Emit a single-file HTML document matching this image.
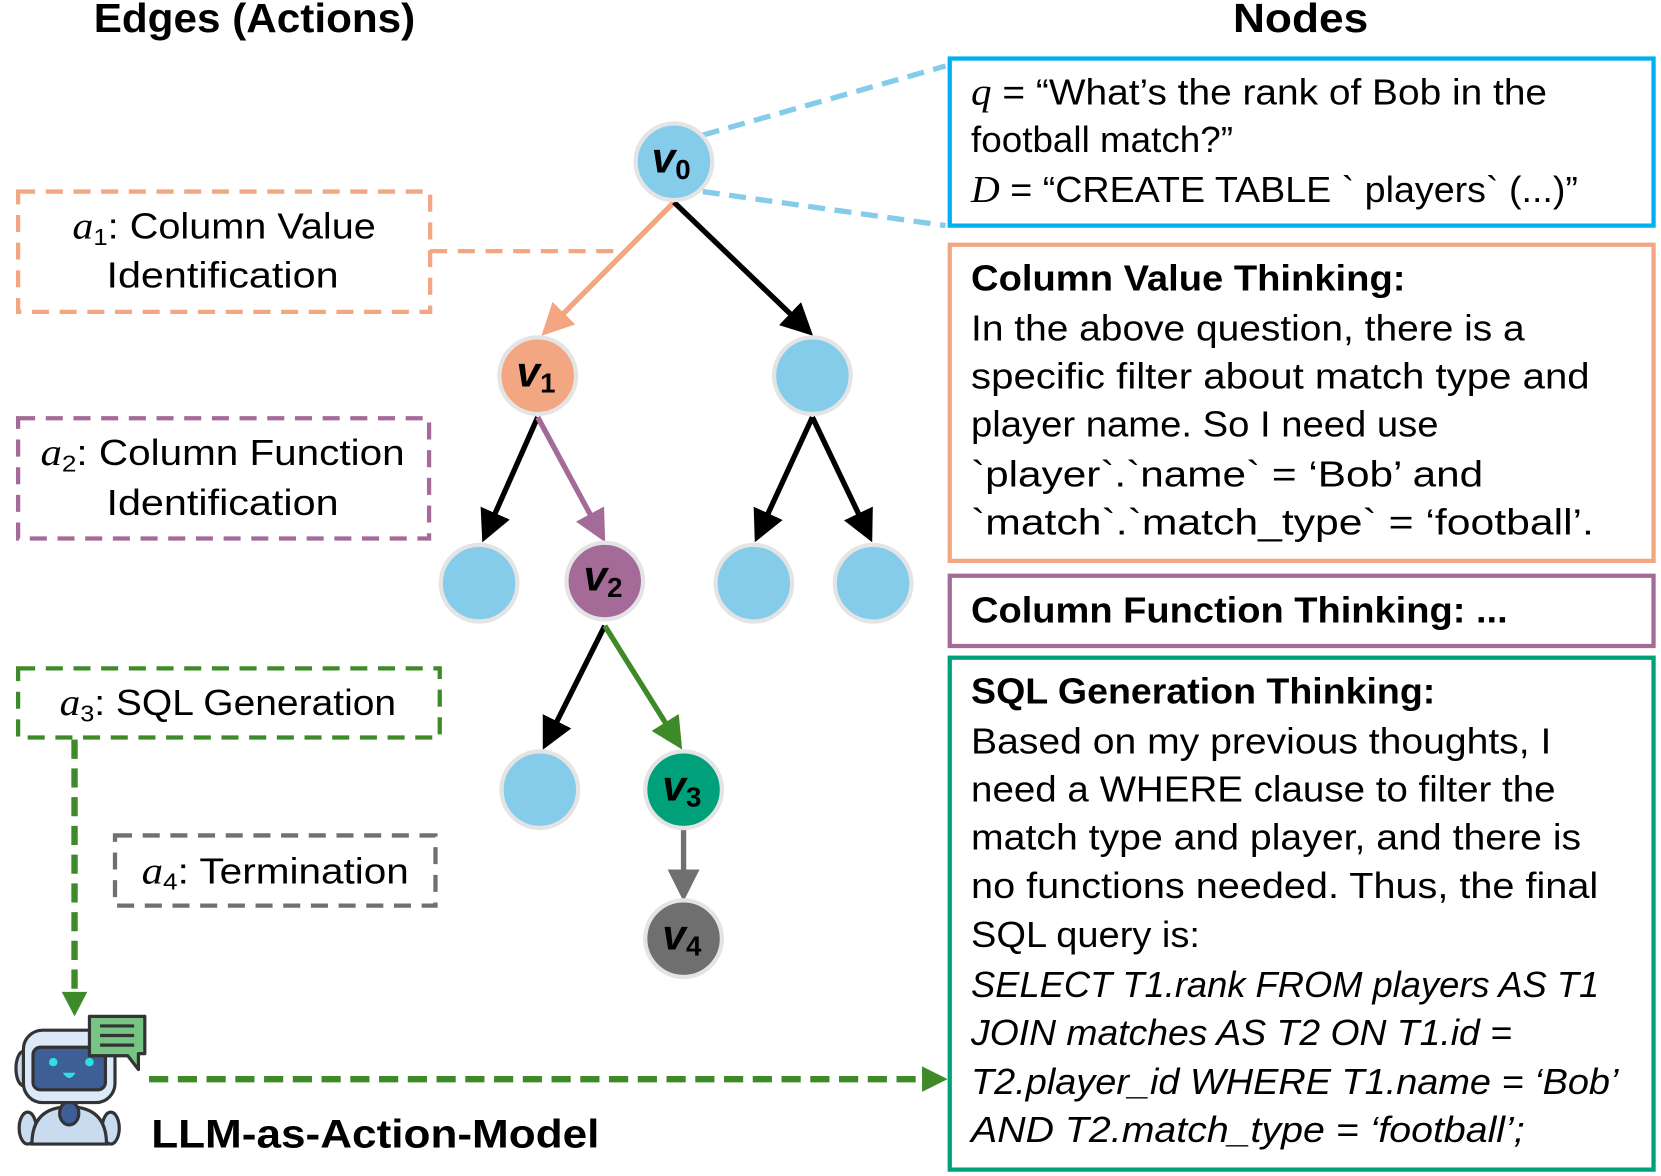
<!DOCTYPE html>
<html><head><meta charset="utf-8"><style>
html,body{margin:0;padding:0;background:#fff;}
svg{display:block;}
text{font-family:"Liberation Sans",sans-serif;fill:#000;}
.t{font-size:34px;}
.b{font-weight:bold;}
.m{font-family:"Liberation Serif",serif;font-style:italic;font-size:36px;}
</style></head><body>
<svg width="1661" height="1176" viewBox="0 0 1560 1105" preserveAspectRatio="none" xmlns="http://www.w3.org/2000/svg">
<defs>
<marker id="ak" markerWidth="6" markerHeight="6" refX="5" refY="3" orient="auto" markerUnits="strokeWidth"><path d="M0,0 L6,3 L0,6 z" fill="#000"/></marker>
<marker id="ao" markerWidth="6" markerHeight="6" refX="5" refY="3" orient="auto" markerUnits="strokeWidth"><path d="M0,0 L6,3 L0,6 z" fill="#f2a682"/></marker>
<marker id="ap" markerWidth="6" markerHeight="6" refX="5" refY="3" orient="auto" markerUnits="strokeWidth"><path d="M0,0 L6,3 L0,6 z" fill="#a46b98"/></marker>
<marker id="ag" markerWidth="6" markerHeight="6" refX="5" refY="3" orient="auto" markerUnits="strokeWidth"><path d="M0,0 L6,3 L0,6 z" fill="#3e8a28"/></marker>
<marker id="ay" markerWidth="6" markerHeight="6" refX="5" refY="3" orient="auto" markerUnits="strokeWidth"><path d="M0,0 L6,3 L0,6 z" fill="#707070"/></marker>
</defs>

<text x="88" y="30" class="b" font-size="38" textLength="302" lengthAdjust="spacingAndGlyphs">Edges (Actions)</text>
<text x="1158" y="30" class="b" font-size="38" textLength="127" lengthAdjust="spacingAndGlyphs">Nodes</text>

<line x1="660" y1="127" x2="888" y2="62" stroke="#85cbea" stroke-width="5" stroke-dasharray="16,9"/>
<line x1="660" y1="180" x2="888" y2="212" stroke="#85cbea" stroke-width="5" stroke-dasharray="16,9"/>

<line x1="633" y1="190" x2="512" y2="312" stroke="#f2a682" stroke-width="5" marker-end="url(#ao)"/>
<line x1="633" y1="190" x2="760" y2="312" stroke="#000" stroke-width="5" marker-end="url(#ak)"/>
<line x1="505" y1="392" x2="455" y2="505" stroke="#000" stroke-width="5" marker-end="url(#ak)"/>
<line x1="505" y1="392" x2="566" y2="505" stroke="#a46b98" stroke-width="5" marker-end="url(#ap)"/>
<line x1="763" y1="392" x2="711" y2="505" stroke="#000" stroke-width="5" marker-end="url(#ak)"/>
<line x1="763" y1="392" x2="817" y2="505" stroke="#000" stroke-width="5" marker-end="url(#ak)"/>
<line x1="568" y1="588" x2="512" y2="700" stroke="#000" stroke-width="5" marker-end="url(#ak)"/>
<line x1="568" y1="588" x2="638" y2="700" stroke="#3e8a28" stroke-width="5" marker-end="url(#ag)"/>
<line x1="642" y1="780" x2="642" y2="842" stroke="#707070" stroke-width="5" marker-end="url(#ay)"/>

<g stroke="#e4e4e4" stroke-width="4">
<circle cx="633" cy="152" r="36" fill="#85cbea"/>
<circle cx="505" cy="353" r="36" fill="#f2a682"/>
<circle cx="763" cy="353" r="36" fill="#85cbea"/>
<circle cx="450" cy="548" r="36" fill="#85cbea"/>
<circle cx="568" cy="546" r="36" fill="#a46b98"/>
<circle cx="708" cy="548" r="36" fill="#85cbea"/>
<circle cx="820" cy="548" r="36" fill="#85cbea"/>
<circle cx="507" cy="742" r="36" fill="#85cbea"/>
<circle cx="642" cy="742" r="36" fill="#00a07a"/>
<circle cx="642" cy="882" r="36" fill="#6f6f6f"/>
</g>
<g font-family="Liberation Serif,serif" font-style="italic" font-weight="bold" font-size="40">
<text x="612" y="162">v<tspan font-size="26" dy="6" font-style="normal">0</tspan></text>
<text x="485" y="363">v<tspan font-size="26" dy="6" font-style="normal">1</tspan></text>
<text x="548" y="555">v<tspan font-size="26" dy="6" font-style="normal">2</tspan></text>
<text x="622" y="752">v<tspan font-size="26" dy="6" font-style="normal">3</tspan></text>
<text x="622" y="892">v<tspan font-size="26" dy="6" font-style="normal">4</tspan></text>
</g>

<rect x="17" y="180" width="387" height="113" fill="none" stroke="#f2a682" stroke-width="4" stroke-dasharray="16,10"/>
<polyline points="404,236 585,236" fill="none" stroke="#f2a682" stroke-width="4" stroke-dasharray="16,10"/>
<text x="68" y="224" class="t" textLength="285" lengthAdjust="spacingAndGlyphs"><tspan class="m">a</tspan><tspan font-size="22" dy="6">1</tspan><tspan dy="-6">: Column Value</tspan></text>
<text x="100" y="270" class="t" textLength="218" lengthAdjust="spacingAndGlyphs">Identification</text>

<rect x="17" y="393" width="386" height="113" fill="none" stroke="#a46b98" stroke-width="4" stroke-dasharray="16,10"/>
<text x="38" y="437" class="t" textLength="342" lengthAdjust="spacingAndGlyphs"><tspan class="m">a</tspan><tspan font-size="22" dy="6">2</tspan><tspan dy="-6">: Column Function</tspan></text>
<text x="100" y="484" class="t" textLength="218" lengthAdjust="spacingAndGlyphs">Identification</text>

<rect x="17" y="628" width="396" height="65" fill="none" stroke="#3e8a28" stroke-width="4" stroke-dasharray="16,10"/>
<text x="56" y="672" class="t" textLength="316" lengthAdjust="spacingAndGlyphs"><tspan class="m">a</tspan><tspan font-size="22" dy="6">3</tspan><tspan dy="-6">: SQL Generation</tspan></text>

<rect x="108" y="785" width="301" height="66" fill="none" stroke="#707070" stroke-width="4" stroke-dasharray="16,10"/>
<text x="133" y="830" class="t" textLength="251" lengthAdjust="spacingAndGlyphs"><tspan class="m">a</tspan><tspan font-size="22" dy="6">4</tspan><tspan dy="-6">: Termination</tspan></text>

<line x1="70" y1="695" x2="70" y2="935" stroke="#3e8a28" stroke-width="6" stroke-dasharray="18,9"/>
<path d="M58,932 L82,932 L70,955 z" fill="#3e8a28"/>
<line x1="140" y1="1014" x2="870" y2="1014" stroke="#3e8a28" stroke-width="6" stroke-dasharray="18,9"/>
<path d="M866,1002 L890,1014 L866,1026 z" fill="#3e8a28"/>

<g stroke="#333" stroke-width="3">
<ellipse cx="26" cy="1060" rx="8" ry="15" fill="#c9dcef"/>
<ellipse cx="104" cy="1060" rx="8" ry="15" fill="#c9dcef"/>
<path d="M30,1075 Q30,1040 65,1040 Q100,1040 100,1075 Z" fill="#c9dcef"/>
<ellipse cx="65" cy="1046" rx="9" ry="11" fill="#3d5f95"/>
<ellipse cx="22" cy="1004" rx="7" ry="16" fill="#c9dcef"/>
<rect x="22" y="968" width="86" height="68" rx="18" fill="#dce9f8"/>
<rect x="31" y="984" width="68" height="40" rx="7" fill="#3d5f95"/>
</g>
<circle cx="50" cy="998" r="4" fill="#2ee0e0"/>
<circle cx="84" cy="998" r="4" fill="#2ee0e0"/>
<path d="M59,1008 L71,1008 Q65,1018 59,1008z" fill="#2ee0e0"/>
<path d="M84,955 L136,955 L136,990 L130,990 L130,1005 L120,992 L84,992 Z" fill="#77c585" stroke="#333" stroke-width="3" stroke-linejoin="round"/>
<line x1="94" y1="964" x2="126" y2="964" stroke="#333" stroke-width="3"/>
<line x1="94" y1="973" x2="126" y2="973" stroke="#333" stroke-width="3"/>
<line x1="94" y1="982" x2="126" y2="982" stroke="#333" stroke-width="3"/>
<text x="142" y="1078" class="b" font-size="37" textLength="421" lengthAdjust="spacingAndGlyphs">LLM-as-Action-Model</text>

<g lengthAdjust="spacingAndGlyphs">
<rect x="892" y="55" width="661" height="157" fill="none" stroke="#00b0f0" stroke-width="4"/>
<text x="912" y="98" class="t" textLength="541" lengthAdjust="spacingAndGlyphs"><tspan class="m">q</tspan> = “What’s the rank of Bob in the</text>
<text x="912" y="143" class="t" textLength="246" lengthAdjust="spacingAndGlyphs">football match?”</text>
<text x="912" y="190" class="t" textLength="570" lengthAdjust="spacingAndGlyphs"><tspan class="m">D</tspan> = “CREATE TABLE ` players` (...)”</text>

<rect x="892" y="230" width="661" height="297" fill="none" stroke="#f2a682" stroke-width="4"/>
<text x="912" y="273" class="t b" textLength="408" lengthAdjust="spacingAndGlyphs">Column Value Thinking:</text>
<text x="912" y="320" class="t" textLength="520" lengthAdjust="spacingAndGlyphs">In the above question, there is a</text>
<text x="912" y="365" class="t" textLength="581" lengthAdjust="spacingAndGlyphs">specific filter about match type and</text>
<text x="912" y="410" class="t" textLength="439" lengthAdjust="spacingAndGlyphs">player name. So I need use</text>
<text x="912" y="457" class="t" textLength="481" lengthAdjust="spacingAndGlyphs">`player`.`name` = ‘Bob’ and</text>
<text x="912" y="502" class="t" textLength="585" lengthAdjust="spacingAndGlyphs">`match`.`match_type` = ‘football’.</text>

<rect x="892" y="541" width="661" height="66" fill="none" stroke="#a46b98" stroke-width="4"/>
<text x="912" y="585" class="t b" textLength="504" lengthAdjust="spacingAndGlyphs">Column Function Thinking: ...</text>

<rect x="892" y="618" width="661" height="481" fill="none" stroke="#00a07a" stroke-width="4"/>
<text x="912" y="661" class="t b" textLength="436" lengthAdjust="spacingAndGlyphs">SQL Generation Thinking:</text>
<text x="912" y="708" class="t" textLength="545" lengthAdjust="spacingAndGlyphs">Based on my previous thoughts, I</text>
<text x="912" y="753" class="t" textLength="549" lengthAdjust="spacingAndGlyphs">need a WHERE clause to filter the</text>
<text x="912" y="798" class="t" textLength="573" lengthAdjust="spacingAndGlyphs">match type and player, and there is</text>
<text x="912" y="844" class="t" textLength="589" lengthAdjust="spacingAndGlyphs">no functions needed. Thus, the final</text>
<text x="912" y="890" class="t" textLength="215" lengthAdjust="spacingAndGlyphs">SQL query is:</text>
<g font-style="italic">
<text x="912" y="937" class="t" textLength="590" lengthAdjust="spacingAndGlyphs">SELECT T1.rank FROM players AS T1</text>
<text x="912" y="982" class="t" textLength="508" lengthAdjust="spacingAndGlyphs">JOIN matches AS T2 ON T1.id =</text>
<text x="912" y="1028" class="t" textLength="608" lengthAdjust="spacingAndGlyphs">T2.player_id WHERE T1.name = ‘Bob’</text>
<text x="912" y="1073" class="t" textLength="520" lengthAdjust="spacingAndGlyphs">AND T2.match_type = ‘football’;</text>
</g>
</g>
</svg>
</body></html>
